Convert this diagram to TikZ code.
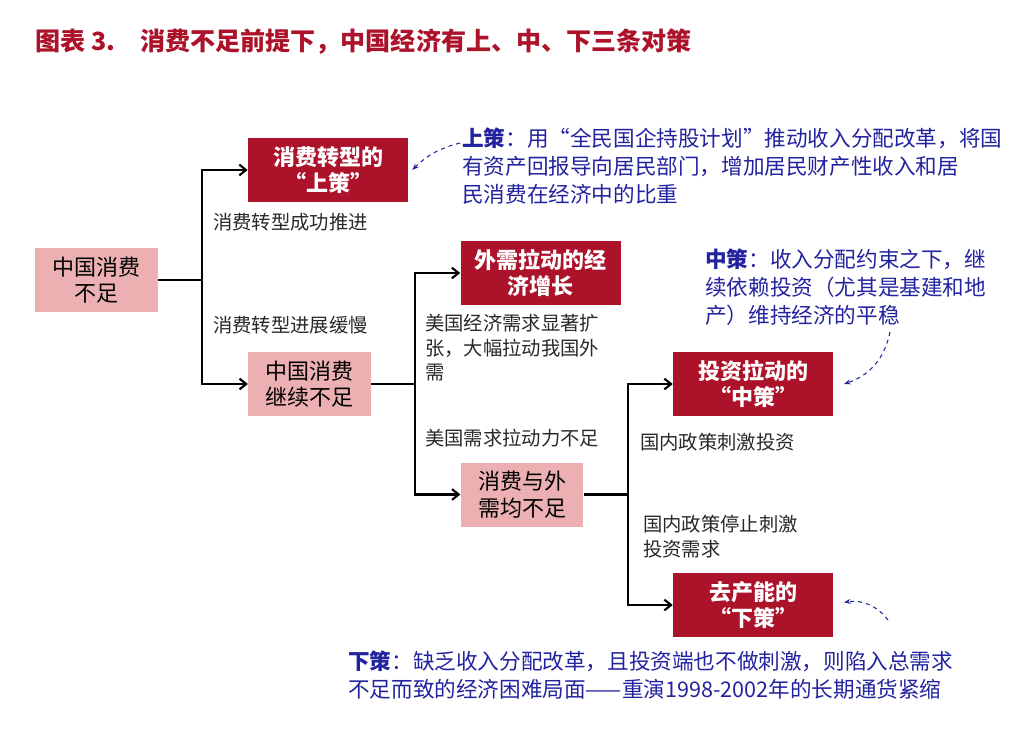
\documentclass[tikz,border=0pt]{standalone}
\usepackage{fontspec}
\setmainfont{Noto Sans CJK SC}
\usetikzlibrary{arrows.meta}
\definecolor{dred}{RGB}{172,18,42}
\definecolor{lpink}{RGB}{236,176,178}
\definecolor{ann}{RGB}{35,35,160}
\definecolor{txt}{RGB}{40,40,40}
\tikzset{
 dbox/.style={fill=dred,text=white,font=\fontsize{16.5}{20}\selectfont,align=center,minimum width=120pt,minimum height=48pt,inner sep=0pt},
 pbox/.style={fill=lpink,text=black,font=\fontsize{16.5}{20}\selectfont,align=center,minimum width=92pt,minimum height=48pt,inner sep=0pt},
 conn/.style={line width=1.6pt,-{Straight Barb[length=5pt,width=8pt]}},
 plain/.style={line width=1.6pt},
 lab/.style={font=\fontsize{14.5}{18.5}\selectfont,text=txt,anchor=west,align=left,inner sep=0pt},
 note/.style={font=\fontsize{16.2}{21}\selectfont,text=ann,anchor=north west,align=left,inner sep=0pt},
 dashline/.style={dashed,ann,line width=0.8pt,-{Stealth[length=5pt]}}
}
\begin{document}
\begin{tikzpicture}[x=0.75pt,y=-0.75pt]
\useasboundingbox (0,0) rectangle (1024,736);
\node[anchor=west,text=dred,font=\fontsize{18.8}{22}\selectfont\bfseries,inner sep=0pt] (title) at (35,42) {图表 3.\quad 消费不足前提下，中国经济有上、中、下三条对策};
\node[pbox,minimum width=92pt] (a) at (96.5,280) {中国消费\\不足};
\node[dbox] (b) at (328,170) {\textbf{消费转型的}\\\textbf{“上策”}};
\node[pbox] (c) at (309.5,384) {中国消费\\继续不足};
\node[dbox] (d) at (540.5,273) {\textbf{外需拉动的经}\\\textbf{济增长}};
\node[pbox] (e) at (522,494.5) {消费与外\\需均不足};
\node[dbox] (f) at (753,384) {\textbf{投资拉动的}\\\textbf{“中策”}};
\node[dbox] (g) at (753,605) {\textbf{去产能的}\\\textbf{“下策”}};
\coordinate (j1) at (202,280);
\coordinate (j2) at (415,384);
\coordinate (j3) at (628,494.5);
\draw[plain] (a.east) -- (j1);
\draw[conn] (j1) |- (b.west);
\draw[conn] (j1) |- (c.west);
\draw[plain] (c.east) -- (j2);
\draw[conn] (j2) |- (d.west);
\draw[conn] (j2) |- (e.west);
\draw[plain] (e.east) -- (j3);
\draw[conn] (j3) |- (f.west);
\draw[conn] (j3) |- (g.west);
\node[lab] (l1) at (213,222) {消费转型成功推进};
\node[lab] (l2) at (213,325) {消费转型进展缓慢};
\node[lab,anchor=north west] (l3) at (425,314) {美国经济需求显著扩\\张，大幅拉动我国外\\需};
\node[lab] (l4) at (425,438) {美国需求拉动力不足};
\node[lab] (l5) at (640,442) {国内政策刺激投资};
\node[lab,anchor=north west] (l6) at (643,515) {国内政策停止刺激\\投资需求};
\node[note] (n1) at (462,128) {\textbf{上策}：用“全民国企持股计划”推动收入分配改革，将国\\有资产回报导向居民部门，增加居民财产性收入和居\\民消费在经济中的比重};
\node[note] (n2) at (705,249) {\textbf{中策}：收入分配约束之下，继\\续依赖投资（尤其是基建和地\\产）维持经济的平稳};
\node[note] (n3) at (348,651) {\textbf{下策}：缺乏收入分配改革，且投资端也不做刺激，则陷入总需求\\不足而致的经济困难局面——重演1998-2002年的长期通货紧缩};
\coordinate (s1) at (460,143);
\coordinate (s2) at (890,332);
\coordinate (s3) at (888,620);
\draw[dashline] (s1) to[bend right=15] ([xshift=3pt]b.east);
\draw[dashline] (s2) to[bend left=30] ([xshift=8pt]f.east);
\draw[dashline] (s3) to[bend right=30] ([xshift=8pt,yshift=2pt]g.east);
\end{tikzpicture}
\end{document}
